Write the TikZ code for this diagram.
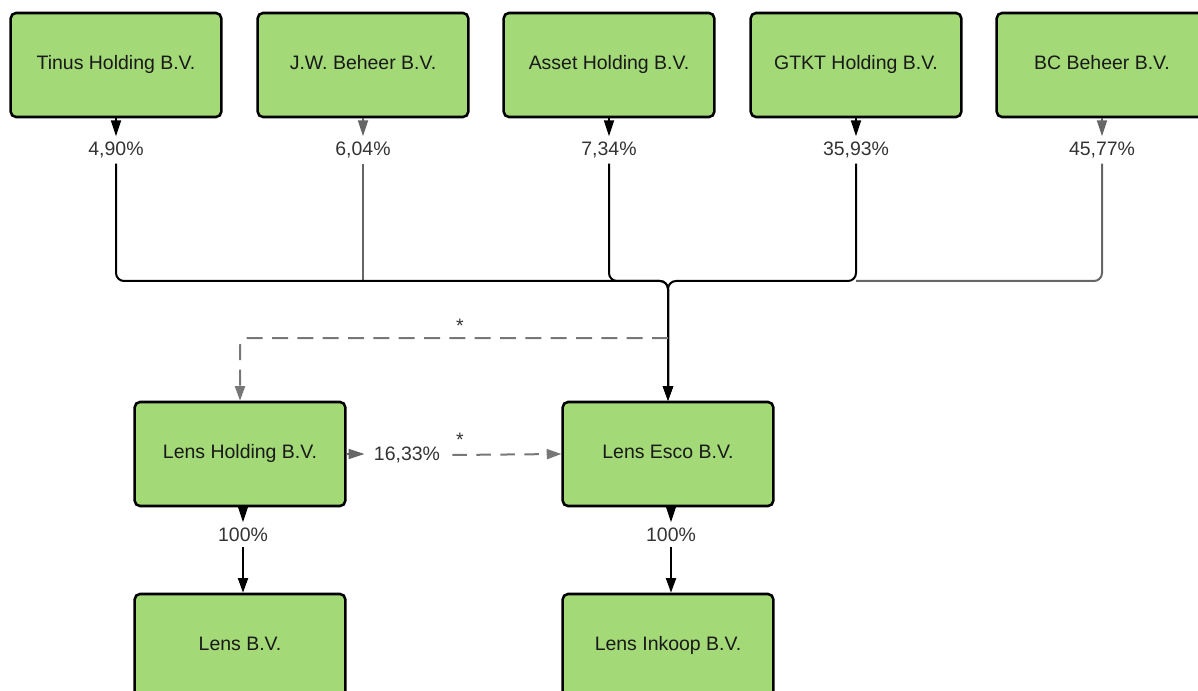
\documentclass[tikz,border=0pt]{standalone}
\usepackage{fontspec}
\setmainfont{Liberation Sans}
\usetikzlibrary{arrows.meta}
\definecolor{boxgreen}{HTML}{A3D977}
\definecolor{lbl}{HTML}{333333}
\definecolor{gline}{HTML}{666666}
\definecolor{dline}{HTML}{777777}
\begin{document}
\begin{tikzpicture}[x=0.75pt,y=-0.75pt,
  ent/.style={draw=black, line width=1.9pt, fill=boxgreen, rounded corners=4pt,
    minimum width=158pt, minimum height=78pt, inner sep=0pt,
    text height=10.4pt, text depth=3.6pt,
    font=\fontsize{14.6}{16}\selectfont, text=black!90},
  pct/.style={font=\fontsize{14.6}{16}\selectfont, text=lbl, inner sep=1pt},
  star/.style={font=\fontsize{14.6}{16}\selectfont, text=lbl, inner sep=0pt, anchor=base},
  stub/.style={line width=1.4pt, -{Triangle[width=7.5pt,length=12pt]}},
  conn/.style={line width=1.5pt, rounded corners=6pt},
  arr/.style={-{Triangle[width=7.5pt,length=11pt]}},
  dsh/.style={line width=1.5pt, draw=dline, dash pattern=on 12pt off 7pt, rounded corners=6pt}]
\useasboundingbox (0,0) rectangle (1198,691);

% entities
\node[ent] (tinus) at (116,65) {Tinus Holding B.V.};
\node[ent] (jw) at (363,65) {J.W. Beheer B.V.};
\node[ent] (asset) at (609,65) {Asset Holding B.V.};
\node[ent] (gtkt) at (856,65) {GTKT Holding B.V.};
\node[ent] (bc) at (1102,65) {BC Beheer B.V.};
\node[ent] (lh) at (240,454) {Lens Holding B.V.};
\node[ent] (le) at (668,454) {Lens Esco B.V.};
\node[ent] (lb) at (240,646) {Lens B.V.};
\node[ent] (li) at (668,646) {Lens Inkoop B.V.};

% percentage labels
\node[pct] (p1) at (116,150) {4,90\%};
\node[pct] (p2) at (363,150) {6,04\%};
\node[pct] (p3) at (609,150) {7,34\%};
\node[pct] (p4) at (856,150) {35,93\%};
\node[pct] (p5) at (1102,150) {45,77\%};
\node[pct] (p6) at (407,455) {16,33\%};
\node[pct] (p7) at (243,535) {100\%};
\node[pct] (p8) at (671,535) {100\%};
\node[star] (s1) at (460,333) {*};
\node[star] (s2) at (460,446) {*};

% stubs
\draw[stub] (tinus.south) -- ++(0,18);
\draw[stub, gline] (jw.south) -- ++(0,18);
\draw[stub] (asset.south) -- ++(0,18);
\draw[stub] (gtkt.south) -- ++(0,18);
\draw[stub, gline] (bc.south) -- ++(0,18);
\draw[stub, gline] (lh.east) -- ++(18,0);
\draw[stub] ([xshift=2.25pt]lh.south) -- ++(0,15);
\draw[stub] ([xshift=2.25pt]le.south) -- ++(0,15);

% bus
\coordinate (bus) at (668,281);
\draw[conn, gline] ([yshift=-3pt]p2.south) -- (p2.south |- bus);
\draw[conn, gline] ([yshift=-3pt]p5.south) |- (p4.south |- bus);
\draw[conn, arr] ([yshift=-3pt]p1.south) |- (bus) -- (le.north);
\draw[conn, arr] ([yshift=-3pt]p3.south) |- (bus) -- (le.north);
\draw[conn, arr] ([yshift=-3pt]p4.south) |- (bus) -- (le.north);

% dashed links
\coordinate (dj) at (668,338);
\draw[dsh, arr] (dj) -| (lh.north);
\draw[dsh, dash pattern=on 11pt off 7pt, arr] ([xshift=8pt]p6.east) -- (le.west);

% lower links
\draw[conn, arr] ([yshift=-3pt]p7.south) -- (p7.south |- lb.north);
\draw[conn, arr] ([yshift=-3pt]p8.south) -- (p8.south |- li.north);
\end{tikzpicture}
\end{document}
